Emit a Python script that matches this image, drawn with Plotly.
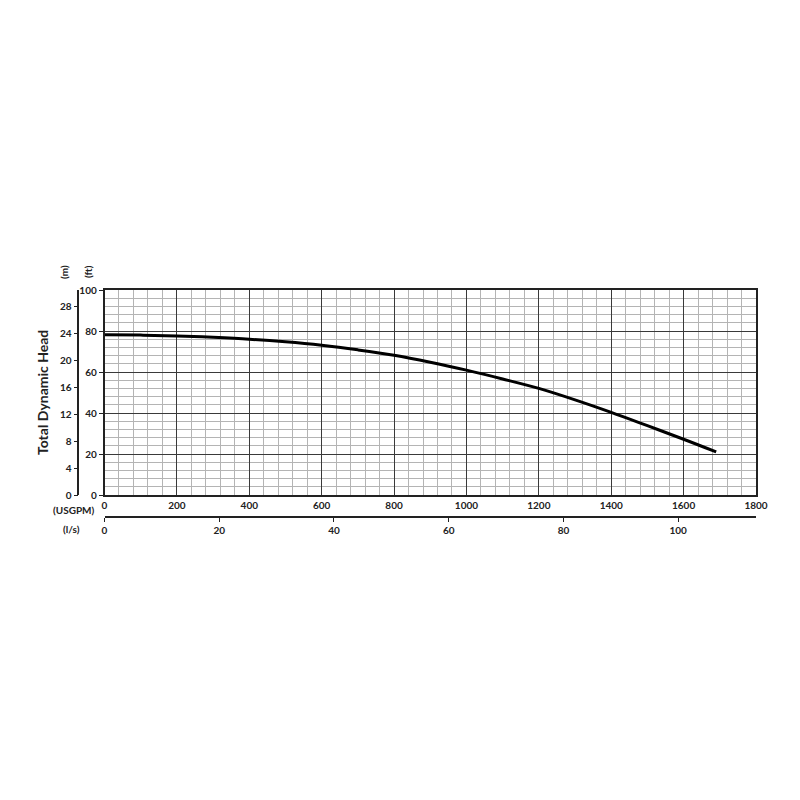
import plotly.graph_objects as go

# pump curve: flow (USGPM) vs head (ft)
flow_usgpm = [0, 100, 200, 300, 400, 500, 600, 700, 800, 900, 1000,
              1100, 1200, 1300, 1400, 1500, 1600, 1690]
head_ft = [78.2, 78.0, 77.6, 76.9, 76.0, 74.7, 73.0, 70.8, 68.2, 64.8, 60.9,
           56.6, 52.0, 46.4, 40.3, 33.8, 27.2, 21.0]

ft_ticks = [0, 20, 40, 60, 80, 100]
m_ticks = [0, 4, 8, 12, 16, 20, 24, 28]
usgpm_ticks = [0, 200, 400, 600, 800, 1000, 1200, 1400, 1600, 1800]
ls_ticks = [0, 20, 40, 60, 80, 100]

FT_PER_M = 3.28084
LS_PER_USGPM = 0.0630902

FONT = "Lato"
W, H = 800, 800
OFF = 8  # page body margin pushes the figure by 8px
ML, MR, MT, MB = 12, 52, 282, 258
PW = W - ML - MR
PH = H - MT - MB


def px_x(p):
    # page pixel -> paper x
    return (p - OFF - ML) / PW


def px_y(p):
    # page pixel -> paper y
    return (H - MB - (p - OFF)) / PH


fig = go.Figure()

fig.add_trace(go.Scatter(
    x=flow_usgpm, y=head_ft, mode="lines",
    line=dict(color="black", width=3, shape="spline"),
    showlegend=False, hoverinfo="skip",
))

# dummy traces so the secondary axes get drawn
fig.add_trace(go.Scatter(x=[None], y=[None], xaxis="x", yaxis="y2",
                         showlegend=False, hoverinfo="skip"))
fig.add_trace(go.Scatter(x=[None], y=[None], xaxis="x2", yaxis="y",
                         showlegend=False, hoverinfo="skip"))

x_dom0 = px_x(104.5)
y_dom0 = px_y(495)
tick_font = dict(family=FONT, size=10, color="#222", weight="bold")

fig.update_layout(
    width=W, height=H,
    margin=dict(l=ML, r=MR, t=MT, b=MB, autoexpand=False),
    paper_bgcolor="white", plot_bgcolor="white",
    font=dict(family=FONT, color="#222"),
    xaxis=dict(
        domain=[x_dom0, 1], range=[0, 1800], automargin=False,
        tickvals=usgpm_ticks, tickfont=tick_font, ticks="",
        showgrid=True, gridcolor="#3a3a3a", gridwidth=1.3,
        minor=dict(dtick=40, showgrid=True, gridcolor="#b4b4b4", gridwidth=1),
        showline=True, linecolor="#222", linewidth=1.5, mirror=True,
        zeroline=False, fixedrange=True,
    ),
    yaxis=dict(
        domain=[y_dom0, 1], range=[0, 100], automargin=False,
        tickvals=ft_ticks, tickfont=tick_font,
        ticks="outside", ticklen=4, tickcolor="#222",
        showgrid=True, gridcolor="#3a3a3a", gridwidth=1.3,
        minor=dict(dtick=4, showgrid=True, gridcolor="#b4b4b4", gridwidth=1),
        showline=True, linecolor="#222", linewidth=1.5, mirror=True,
        zeroline=False, fixedrange=True,
    ),
    yaxis2=dict(
        overlaying="y", anchor="free", position=px_x(78.3), side="left",
        automargin=False,
        range=[0, 100 / FT_PER_M], tickvals=m_ticks, tickfont=tick_font,
        ticks="outside", ticklen=4, tickcolor="#222",
        showgrid=False, showline=True, linecolor="#222", linewidth=1.5,
        zeroline=False, fixedrange=True,
    ),
    xaxis2=dict(
        overlaying="x", anchor="free", position=px_y(517.3), side="bottom",
        automargin=False,
        range=[0, 1800 * LS_PER_USGPM], tickvals=ls_ticks, tickfont=tick_font,
        ticks="outside", ticklen=4, tickcolor="#222",
        showgrid=False, showline=True, linecolor="#222", linewidth=1.5,
        zeroline=False, fixedrange=True,
    ),
)

lab_font = dict(family=FONT, size=10, color="#222", weight="bold")


def label(text, x, y, angle=0, font=lab_font, xanchor="center"):
    fig.add_annotation(text=text, x=px_x(x), y=px_y(y), xref="paper",
                       yref="paper", showarrow=False, textangle=angle,
                       xanchor=xanchor, yanchor="middle", font=font)


label("Total Dynamic Head", 42, 393, -90,
      dict(family=FONT, size=14, color="#222", weight="bold"))
label("(m)", 64, 272, -90)
label("(ft)", 88, 272, -90)
label("(USGPM)", 97, 510, xanchor="right")
label("(l/s)", 72, 529)

fig.write_html("out.html")
